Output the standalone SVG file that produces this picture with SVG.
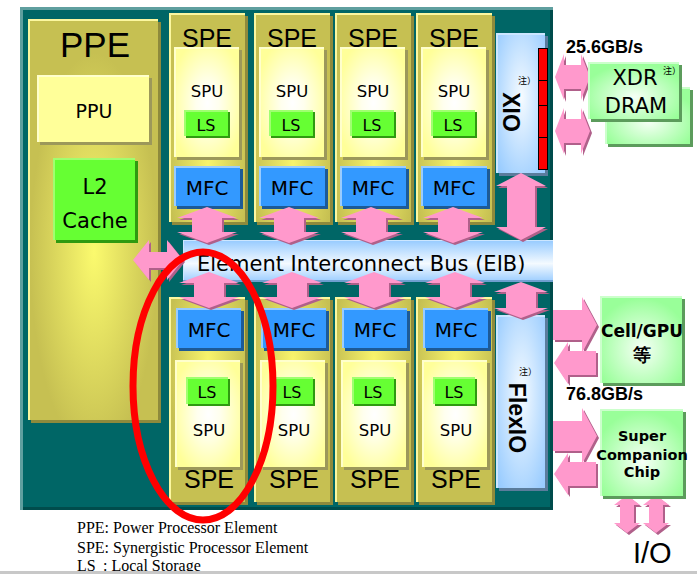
<svg xmlns="http://www.w3.org/2000/svg" width="697" height="574" viewBox="0 0 697 574">
<style>
.t{font-family:"DejaVu Sans",sans-serif;fill:#000}
.ls{font-family:"Liberation Sans",Arial,sans-serif}
.sf{font-family:"Liberation Serif","Times New Roman",serif;fill:#000}
.cjk{font-family:"DejaVu Sans","Noto Sans CJK JP",sans-serif}
.b{font-weight:bold}
.m{text-anchor:middle}
.pk{fill:#ff99cc}
.pks{fill:#b0608a}
.colS{fill:#8e8a3c}.colH{fill:#fbf7a0}
.spuS{fill:#9c985a}.spuH{fill:#ffffcc}
.lsS{fill:#2f9a10}.lsH{fill:#a0ff70}.lsM{fill:#66ff33}
.mfS{fill:#1d5a96}.mfH{fill:#99ccff}.mfM{fill:#3399ff}
.blS{fill:#5a7c9c}.blH{fill:#cce6ff}
.grS{fill:#5c9c5c}.grH{fill:#ccffcc}
.ppuS{fill:#9c985a}.ppuH{fill:#ffffcc}.ppuM{fill:#ffff99}
</style>
<defs>
<radialGradient id="gColT" cx="0.5" cy="0.72" r="0.55"><stop offset="0" stop-color="#f8f46c"/><stop offset="1" stop-color="#c6c052"/></radialGradient>
<radialGradient id="gColB" cx="0.5" cy="0.3" r="0.55"><stop offset="0" stop-color="#f8f46c"/><stop offset="1" stop-color="#c6c052"/></radialGradient>
<radialGradient id="gPPE" cx="0.5" cy="0.58" r="0.5"><stop offset="0" stop-color="#fbfa6e"/><stop offset="1" stop-color="#c6c052"/></radialGradient>
<radialGradient id="gSpu" cx="0.5" cy="0.5" r="0.6"><stop offset="0" stop-color="#ffffff"/><stop offset="0.3" stop-color="#ffffee"/><stop offset="1" stop-color="#ffff99"/></radialGradient>
<radialGradient id="gBlue" cx="0.5" cy="0.45" r="0.7"><stop offset="0" stop-color="#f6fbff"/><stop offset="1" stop-color="#99ccff"/></radialGradient>
<linearGradient id="gEIB" x1="0" y1="0" x2="0" y2="1"><stop offset="0" stop-color="#99ccff"/><stop offset="0.55" stop-color="#f4faff"/><stop offset="1" stop-color="#99ccff"/></linearGradient>
<radialGradient id="gGreen" cx="0.5" cy="0.6" r="0.6"><stop offset="0" stop-color="#f6fff6"/><stop offset="1" stop-color="#99ff99"/></radialGradient>
<path id="p-va36" d="M0,0 L30,11 L15,11 L15,25 L30,25 L0,36 L-30,25 L-15,25 L-15,11 L-30,11 Z"/>
<path id="p-va67" d="M0,0 L25,13 L14,13 L14,54 L25,54 L0,67 L-25,54 L-14,54 L-14,13 L-25,13 Z"/>
<path id="p-vaF" d="M0,0 L27,10 L15,10 L15,26 L27,26 L0,36 L-27,26 L-15,26 L-15,10 L-27,10 Z"/>
<path id="p-haP" d="M0,0 L16,-20 L16,-8 L34,-8 L34,-20 L50,0 L34,20 L34,8 L16,8 L16,20 Z"/>
<path id="p-haX" d="M0,0 L9,-23 L9,-12 L26,-12 L26,-23 L35,0 L26,23 L26,12 L9,12 L9,23 Z"/>
<path id="p-raR" d="M0,-15 L29,-15 L29,-28 L44,0 L29,28 L29,15 L0,15 Z"/>
<path id="p-laL" d="M0,0 L14,-21 L14,-12 L42,-12 L42,12 L14,12 L14,21 Z"/>
<path id="p-vaIO" d="M0,0 L13,10 L7,10 L7,28 L13,28 L0,38 L-13,28 L-7,28 L-7,10 L-13,10 Z"/>
<g id="A-va36"><use href="#p-va36" class="pks" x="2" y="2"/><use href="#p-va36" class="pk"/></g>
<g id="A-va67"><use href="#p-va67" class="pks" x="2" y="2"/><use href="#p-va67" class="pk"/></g>
<g id="A-vaF"><use href="#p-vaF" class="pks" x="2" y="2"/><use href="#p-vaF" class="pk"/></g>
<g id="A-haP"><use href="#p-haP" class="pks" x="2" y="2"/><use href="#p-haP" class="pk"/></g>
<g id="A-haX"><use href="#p-haX" class="pks" x="2" y="2"/><use href="#p-haX" class="pk"/></g>
<g id="A-raR"><use href="#p-raR" class="pks" x="2" y="2"/><use href="#p-raR" class="pk"/></g>
<g id="A-laL"><use href="#p-laL" class="pks" x="2" y="2"/><use href="#p-laL" class="pk"/></g>
<g id="A-vaIO"><use href="#p-vaIO" class="pks" x="2" y="2"/><use href="#p-vaIO" class="pk"/></g>
<g id="spe-top">
<rect class="colS" x="3" y="16" width="76" height="209"/>
<rect class="colH" x="0" y="13" width="76" height="209"/>
<rect x="2" y="15" width="74" height="207" fill="url(#gColT)"/>
<text class="t ls m" x="38" y="47" font-size="25">SPE</text>
<rect class="spuS" x="8" y="50" width="65" height="110"/>
<rect class="spuH" x="5" y="47" width="65" height="110"/>
<rect x="7" y="49" width="63" height="108" fill="url(#gSpu)"/>
<text class="t m" x="38" y="97" font-size="16.5">SPU</text>
<rect class="lsS" x="17" y="112" width="44" height="26"/>
<rect class="lsH" x="15" y="110" width="44" height="26"/>
<rect class="lsM" x="17" y="112" width="42" height="24"/>
<text class="t m" x="37" y="131" font-size="16">LS</text>
<rect class="mfS" x="8" y="169" width="66" height="40"/>
<rect class="mfH" x="5" y="166" width="66" height="40"/>
<rect class="mfM" x="7" y="168" width="64" height="38"/>
<text class="t m" x="38" y="195" font-size="20">MFC</text>
</g>
<g id="spe-bot">
<rect class="colS" x="3" y="300" width="76" height="205"/>
<rect class="colH" x="0" y="297" width="76" height="205"/>
<rect x="2" y="299" width="74" height="203" fill="url(#gColB)"/>
<rect class="mfS" x="10" y="311" width="65" height="40"/>
<rect class="mfH" x="7" y="308" width="65" height="40"/>
<rect class="mfM" x="9" y="310" width="63" height="38"/>
<text class="t m" x="40" y="337" font-size="20">MFC</text>
<rect class="spuS" x="9" y="363" width="65" height="107"/>
<rect class="spuH" x="6" y="360" width="65" height="107"/>
<rect x="8" y="362" width="63" height="105" fill="url(#gSpu)"/>
<rect class="lsS" x="19" y="379" width="42" height="27"/>
<rect class="lsH" x="17" y="377" width="42" height="27"/>
<rect class="lsM" x="19" y="379" width="40" height="25"/>
<text class="t m" x="38" y="398" font-size="16">LS</text>
<text class="t m" x="40" y="436" font-size="16.5">SPU</text>
<text class="t ls m" x="40" y="488" font-size="25">SPE</text>
</g>
</defs>

<rect width="697" height="574" fill="#ffffff"/>

<g id="chip-frame">
<rect x="20" y="7" width="533" height="503" fill="#5f9f9f"/>
<rect x="23" y="10" width="530" height="500" fill="#006666"/>
<rect x="23" y="507" width="530" height="3" fill="#004c4c"/>
<rect x="550" y="10" width="3" height="500" fill="#004c4c"/>
</g>

<g id="ppe">
<rect class="colS" x="31" y="22" width="130" height="401"/>
<rect class="colH" x="28" y="19" width="130" height="401"/>
<rect x="30" y="21" width="128" height="399" fill="url(#gPPE)"/>
<text class="t ls m" x="95" y="57" font-size="35">PPE</text>
<g id="ppu">
<rect class="ppuS" x="40" y="78" width="112" height="67"/>
<rect class="ppuH" x="37" y="75" width="112" height="67"/>
<rect class="ppuM" x="39" y="77" width="110" height="65"/>
<text class="t m" x="94" y="118" font-size="19">PPU</text>
</g>
<g id="l2cache">
<rect class="lsS" x="56" y="161" width="82" height="82"/>
<rect class="lsH" x="53" y="158" width="82" height="82"/>
<rect class="lsM" x="55" y="160" width="80" height="80"/>
<text class="t m" x="95" y="194" font-size="21">L2</text>
<text class="t m" x="95" y="228" font-size="21">Cache</text>
</g>
</g>

<g id="spe-t1" transform="translate(169,0)"><use href="#spe-top"/></g>
<g id="spe-t2" transform="translate(254,0)"><use href="#spe-top"/></g>
<g id="spe-t3" transform="translate(335,0)"><use href="#spe-top"/></g>
<g id="spe-t4" transform="translate(416,0)"><use href="#spe-top"/></g>
<g id="spe-b1" transform="translate(169,0)"><use href="#spe-bot"/></g>
<g id="spe-b2" transform="translate(254,0)"><use href="#spe-bot"/></g>
<g id="spe-b3" transform="translate(335,0)"><use href="#spe-bot"/></g>
<g id="spe-b4" transform="translate(416,0)"><use href="#spe-bot"/></g>

<g id="xio">
<rect class="blS" x="499" y="36" width="49" height="140"/>
<rect class="blH" x="496" y="33" width="49" height="140"/>
<rect x="498" y="35" width="47" height="138" fill="url(#gBlue)"/>
<g fill="#ff0000" stroke="#000" stroke-width="1">
<rect x="538.5" y="48.5" width="9" height="32"/>
<rect x="538.5" y="80.5" width="9" height="25"/>
<rect x="538.5" y="105.5" width="9" height="32"/>
<rect x="538.5" y="137.5" width="9" height="32"/>
</g>
<text class="cjk" x="518" y="84" font-size="9">注）</text>
<text class="t ls b m" transform="translate(503,112) rotate(90)" font-size="23">XIO</text>
</g>

<g id="flexio">
<rect class="blS" x="499" y="318" width="49" height="173"/>
<rect class="blH" x="496" y="315" width="49" height="173"/>
<rect x="498" y="317" width="47" height="171" fill="url(#gBlue)"/>
<text class="cjk" x="519" y="375" font-size="9">注）</text>
<text class="t ls b m" transform="translate(509,418) rotate(90)" font-size="23">FlexIO</text>
</g>

<g id="eib">
<rect x="183" y="240" width="370" height="42" fill="#cce6ff"/>
<rect x="184" y="241" width="369" height="41" fill="url(#gEIB)"/>
<rect x="183" y="280" width="370" height="2" fill="#6f9fcf"/>
<text class="t" x="197" y="271" font-size="21">Element Interconnect Bus (EIB)</text>
</g>

<g id="connectors">
<use href="#A-va36" x="207" y="207"/>
<use href="#A-va36" x="289" y="207"/>
<use href="#A-va36" x="371" y="207"/>
<use href="#A-va36" x="453" y="207"/>
<use href="#A-va36" x="209" y="272"/>
<use href="#A-va36" x="292" y="272"/>
<use href="#A-va36" x="374" y="272"/>
<use href="#A-va36" x="455" y="272"/>
<use href="#A-va67" x="521" y="173"/>
<use href="#A-vaF" x="521" y="282"/>
<use href="#A-haP" x="133" y="260"/>
<use href="#A-haX" x="555" y="77"/>
<use href="#A-haX" x="555" y="131"/>
<use href="#A-raR" x="553" y="325"/>
<use href="#A-laL" x="554" y="363"/>
<use href="#A-raR" x="553" y="436"/>
<use href="#A-laL" x="554" y="474"/>
<use href="#A-vaIO" x="627" y="495"/>
<use href="#A-vaIO" x="656" y="495"/>
</g>

<g id="xdr-dram">
<rect class="grS" x="608" y="90" width="85" height="57"/>
<rect class="grH" x="605" y="87" width="85" height="57"/>
<rect x="607" y="89" width="83" height="55" fill="url(#gGreen)"/>
<rect class="grS" x="591" y="65" width="91" height="57"/>
<rect class="grH" x="588" y="62" width="91" height="57"/>
<rect x="590" y="64" width="89" height="55" fill="url(#gGreen)"/>
<text class="t m" x="635" y="85" font-size="21">XDR</text>
<text class="t m" x="636" y="113" font-size="21">DRAM</text>
<text class="cjk" x="663" y="74" font-size="9">注）</text>
</g>

<g id="cell-gpu">
<rect class="grS" x="603" y="299" width="82" height="87"/>
<rect class="grH" x="600" y="296" width="82" height="87"/>
<rect x="602" y="298" width="80" height="85" fill="url(#gGreen)"/>
<text class="t b m" x="642" y="337" font-size="17">Cell/GPU</text>
<text class="t b m" x="642" y="361" font-size="18" font-family="'Noto Sans CJK JP',sans-serif">等</text>
</g>

<g id="super-companion">
<rect class="grS" x="603" y="412" width="83" height="87"/>
<rect class="grH" x="600" y="409" width="83" height="87"/>
<rect x="602" y="411" width="81" height="85" fill="url(#gGreen)"/>
<text class="t b m" x="642" y="441" font-size="14.5">Super</text>
<text class="t b m" x="642" y="460" font-size="14.5">Companion</text>
<text class="t b m" x="642" y="477" font-size="14.5">Chip</text>
</g>

<g id="labels">
<text class="t ls b" x="566" y="53" font-size="18">25.6GB/s</text>
<text class="t ls b" x="566" y="400" font-size="18">76.8GB/s</text>
<text class="t ls" x="633" y="563" font-size="29">I/O</text>
</g>

<g id="legend" font-size="16">
<text class="sf" x="77" y="533">PPE: Power Processor Element</text>
<text class="sf" x="77" y="553">SPE: Synergistic Processor Element</text>
<text class="sf" x="77" y="571">LS<tspan x="103">: Local Storage</tspan></text>
</g>

<ellipse id="highlight" cx="203" cy="386" rx="70" ry="134" fill="none" stroke="#ff0000" stroke-width="7"/>
<rect x="0" y="571" width="697" height="3" fill="#c8c8c8"/>
</svg>
